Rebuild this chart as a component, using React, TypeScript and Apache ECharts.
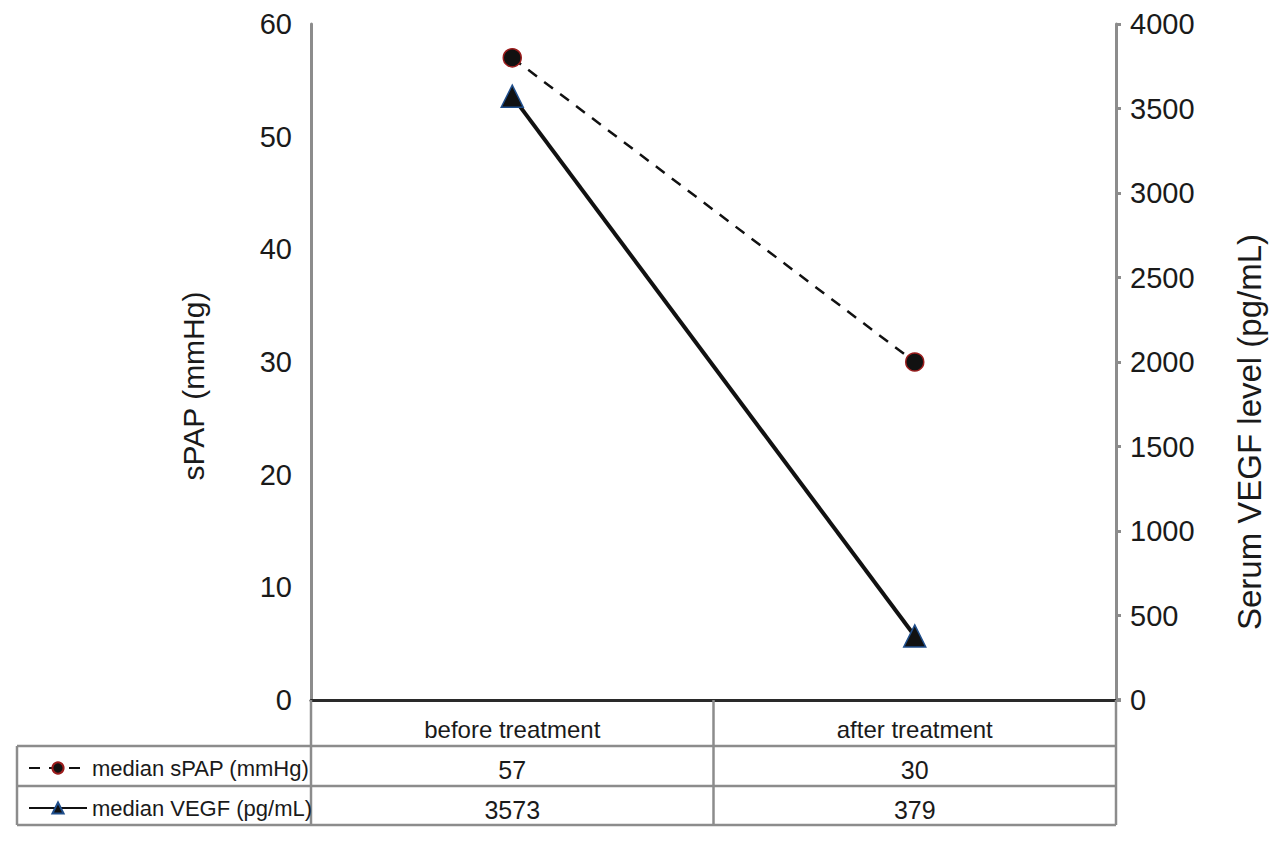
import { useEffect, useRef } from "react";
import * as echarts from "echarts";

const categories = ["before treatment", "after treatment"];
const seriesNames = ["median sPAP (mmHg)", "median VEGF (pg/mL)"];
const spapValues = [57, 30];
const vegfValues = [3573, 379];
const leftAxisTitle = "sPAP (mmHg)";
const rightAxisTitle = "Serum VEGF level (pg/mL)";

const SANS = "'Liberation Sans', Arial, sans-serif";
const TEXT = "#1a1a1a";
const GRID_GRAY = "#8c8c8c";

export default function App() {
  const ref = useRef<HTMLDivElement>(null);
  useEffect(() => {
    document.body.style.margin = "0";
    const chart = echarts.init(ref.current!, null, { renderer: "svg" });
    const GL = 311, GR = 1116, GT = 24, GB = 700;
    const rows = [746, 786, 825];
    const option: any = {
      animation: false,
      backgroundColor: "#ffffff",
      grid: { left: GL, right: 1280 - GR, top: GT, bottom: 842 - GB, containLabel: false },
      legend: {
        orient: "vertical",
        left: 23,
        top: 748,
        itemWidth: 58,
        itemHeight: 14,
        itemGap: 10,
        textStyle: { fontFamily: SANS, fontSize: 22, color: TEXT, lineHeight: 30 },
        data: seriesNames,
      },
      xAxis: {
        type: "category",
        data: categories,
        boundaryGap: true,
        axisLine: { lineStyle: { color: "#2a2a2a", width: 3 } },
        axisTick: { show: false },
        axisLabel: { fontFamily: SANS, fontSize: 24, color: TEXT, margin: 17 },
      },
      yAxis: [
        {
          type: "value",
          min: 0,
          max: 60,
          interval: 10,
          position: "left",
          axisLine: { show: true, lineStyle: { color: GRID_GRAY, width: 3 } },
          axisTick: { show: false },
          splitLine: { show: false },
          axisLabel: { fontFamily: SANS, fontSize: 29, color: TEXT, margin: 19, padding: [14, 0, 0, 0] },
        },
        {
          type: "value",
          min: 0,
          max: 4000,
          interval: 500,
          position: "right",
          axisLine: { show: true, lineStyle: { color: GRID_GRAY, width: 3 } },
          axisTick: { show: true, length: 5, lineStyle: { color: GRID_GRAY, width: 3 } },
          splitLine: { show: false },
          axisLabel: {
            fontFamily: SANS,
            fontSize: 29,
            color: TEXT,
            margin: 14,
            padding: [14, 0, 0, 0],
            formatter: (v: number) => String(v),
          },
        },
      ],
      series: [
        {
          name: seriesNames[0],
          type: "line",
          yAxisIndex: 0,
          data: spapValues,
          symbol: "circle",
          symbolSize: 18,
          lineStyle: { color: "#111", width: 2.5, type: [11, 9] },
          itemStyle: { color: "#111", borderColor: "#9b1c1c", borderWidth: 1.5 },
          z: 3,
        },
        {
          name: seriesNames[1],
          type: "line",
          yAxisIndex: 1,
          data: vegfValues,
          symbol: "triangle",
          symbolSize: [22, 22],
          lineStyle: { color: "#111", width: 4, type: "solid" },
          itemStyle: { color: "#111", borderColor: "#1f4e8c", borderWidth: 1.5 },
          z: 2,
        },
      ],
    };
    chart.setOption(option);

    const xs = categories.map((c) => chart.convertToPixel({ xAxisIndex: 0 }, c) as number);
    const mid = (GL + GR) / 2;
    const lineEl = (x1: number, y1: number, x2: number, y2: number) => ({
      type: "line",
      shape: { x1, y1, x2, y2 },
      style: { stroke: GRID_GRAY, lineWidth: 2.5 },
      silent: true,
      z: 1,
    });
    const graphic: any[] = [
      lineEl(GL, GB, GL, rows[2]),
      lineEl(mid, GB, mid, rows[2]),
      lineEl(GR, GB, GR, rows[2]),
      lineEl(17, rows[0], 17, rows[2]),
      ...rows.map((y) => lineEl(17, y, GR, y)),
      {
        type: "line",
        shape: { x1: GR, y1: GB, x2: GR + 5, y2: GB },
        style: { stroke: "#2a2a2a", lineWidth: 3 },
        silent: true,
      },
      {
        type: "text",
        x: 193,
        y: 386,
        rotation: Math.PI / 2,
        style: { text: leftAxisTitle, fontFamily: SANS, fontSize: 30, fill: TEXT, align: "center", verticalAlign: "middle" },
      },
      {
        type: "text",
        x: 1249,
        y: 432,
        rotation: Math.PI / 2,
        style: { text: rightAxisTitle, fontFamily: SANS, fontSize: 33, fill: TEXT, align: "center", verticalAlign: "middle" },
      },
    ];
    const rowValues = [spapValues, vegfValues];
    rowValues.forEach((vals, r) => {
      vals.forEach((v, i) => {
        graphic.push({
          type: "text",
          x: xs[i],
          y: (rows[r] + rows[r + 1]) / 2 + 4,
          style: { text: String(v), fontFamily: SANS, fontSize: 25, fill: TEXT, align: "center", verticalAlign: "middle" },
        });
      });
    });
    chart.setOption({ graphic });
    return () => chart.dispose();
  }, []);
  return <div ref={ref} style={{ width: 1280, height: 842 }} />;
}
